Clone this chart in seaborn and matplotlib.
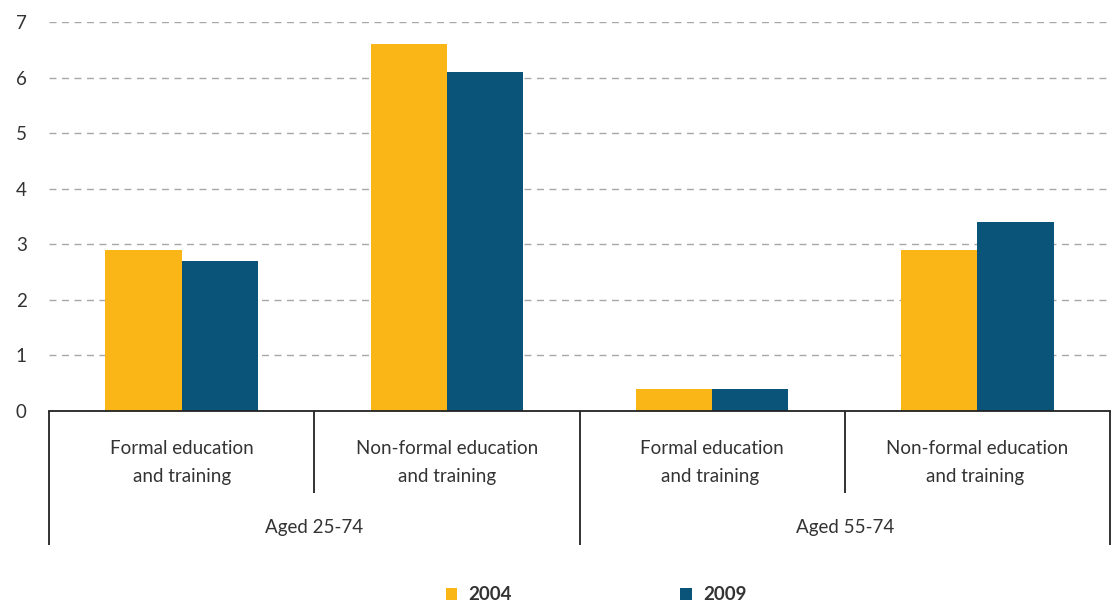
import matplotlib
matplotlib.use("Agg")
import matplotlib.pyplot as plt
import matplotlib.transforms as mtransforms
from matplotlib.patches import Patch
import seaborn as sns
import pandas as pd

categories = ["Formal education\nand training", "Non-formal education\nand training",
              "Formal education\nand training ", "Non-formal education\nand training "]
groups = ["Aged 25-74", "Aged 55-74"]
years = ["2004", "2009"]
values_2004 = [2.9, 6.6, 0.4, 2.9]
values_2009 = [2.7, 6.1, 0.4, 3.4]

colors = {"2004": "#F9B616", "2009": "#0A5479"}

df = pd.DataFrame({
    "cat": categories * 2,
    "year": ["2004"] * 4 + ["2009"] * 4,
    "value": values_2004 + values_2009,
})

sns.set_theme(style="white")
plt.rcParams["font.family"] = ["Lato", "DejaVu Sans"]

fig = plt.figure(figsize=(11.13, 6.06), dpi=100)
ax = fig.add_axes([49 / 1113, 1 - 411 / 606, (1110 - 49) / 1113, (411 - 22) / 606])

sns.barplot(data=df, x="cat", y="value", hue="year", order=categories,
            hue_order=years, palette=colors, width=0.574, gap=0,
            saturation=1, ax=ax, legend=False, linewidth=0, edgecolor="none")

ax.set_ylim(0, 7)
ax.set_xlim(-0.5, 3.5)
ax.set_yticks(range(0, 8))
ax.yaxis.grid(True, linestyle=(0, (5, 4)), color="#a8a8a8", linewidth=1.0)
ax.set_axisbelow(True)
for s in ["top", "right", "left"]:
    ax.spines[s].set_visible(False)
ax.spines["bottom"].set_color("#222222")
ax.spines["bottom"].set_linewidth(1.3)
ax.set_xlabel("")
ax.set_ylabel("")
ax.tick_params(axis="y", length=0, pad=16, labelsize=13.5, labelcolor="#333333")
ax.tick_params(axis="x", length=0, pad=21, labelsize=13.5, labelcolor="#333333")
for lbl in ax.get_xticklabels():
    lbl.set_linespacing(1.8)

trans = mtransforms.blended_transform_factory(ax.transData, ax.transAxes)
axh = (411 - 22)
long_y = -(545 - 411) / axh
short_y = -(493 - 411) / axh
for xpos, y0 in [(-0.5, long_y), (0.5, short_y), (1.5, long_y), (2.5, short_y), (3.5, long_y)]:
    ax.plot([xpos, xpos], [0, y0], transform=trans, color="#222222", lw=1.3,
            clip_on=False, solid_capstyle="butt")

group_y = -(527 - 411) / axh
for gi, g in enumerate(groups):
    ax.text(0.5 + 2 * gi, group_y, g, transform=trans, ha="center", va="center",
            fontsize=13.5, color="#333333")

handles = [Patch(facecolor=colors[y], edgecolor="none", label=y) for y in years]
leg = fig.legend(handles=handles, loc="center", bbox_to_anchor=(596 / 1113, 1 - 595 / 606),
                 ncol=2, frameon=False, handlelength=0.6, handleheight=0.6,
                 handletextpad=0.6, columnspacing=9, prop={"weight": "bold", "size": 13.5})
for t in leg.get_texts():
    t.set_color("#333333")

fig.savefig("out.png", dpi=100)
